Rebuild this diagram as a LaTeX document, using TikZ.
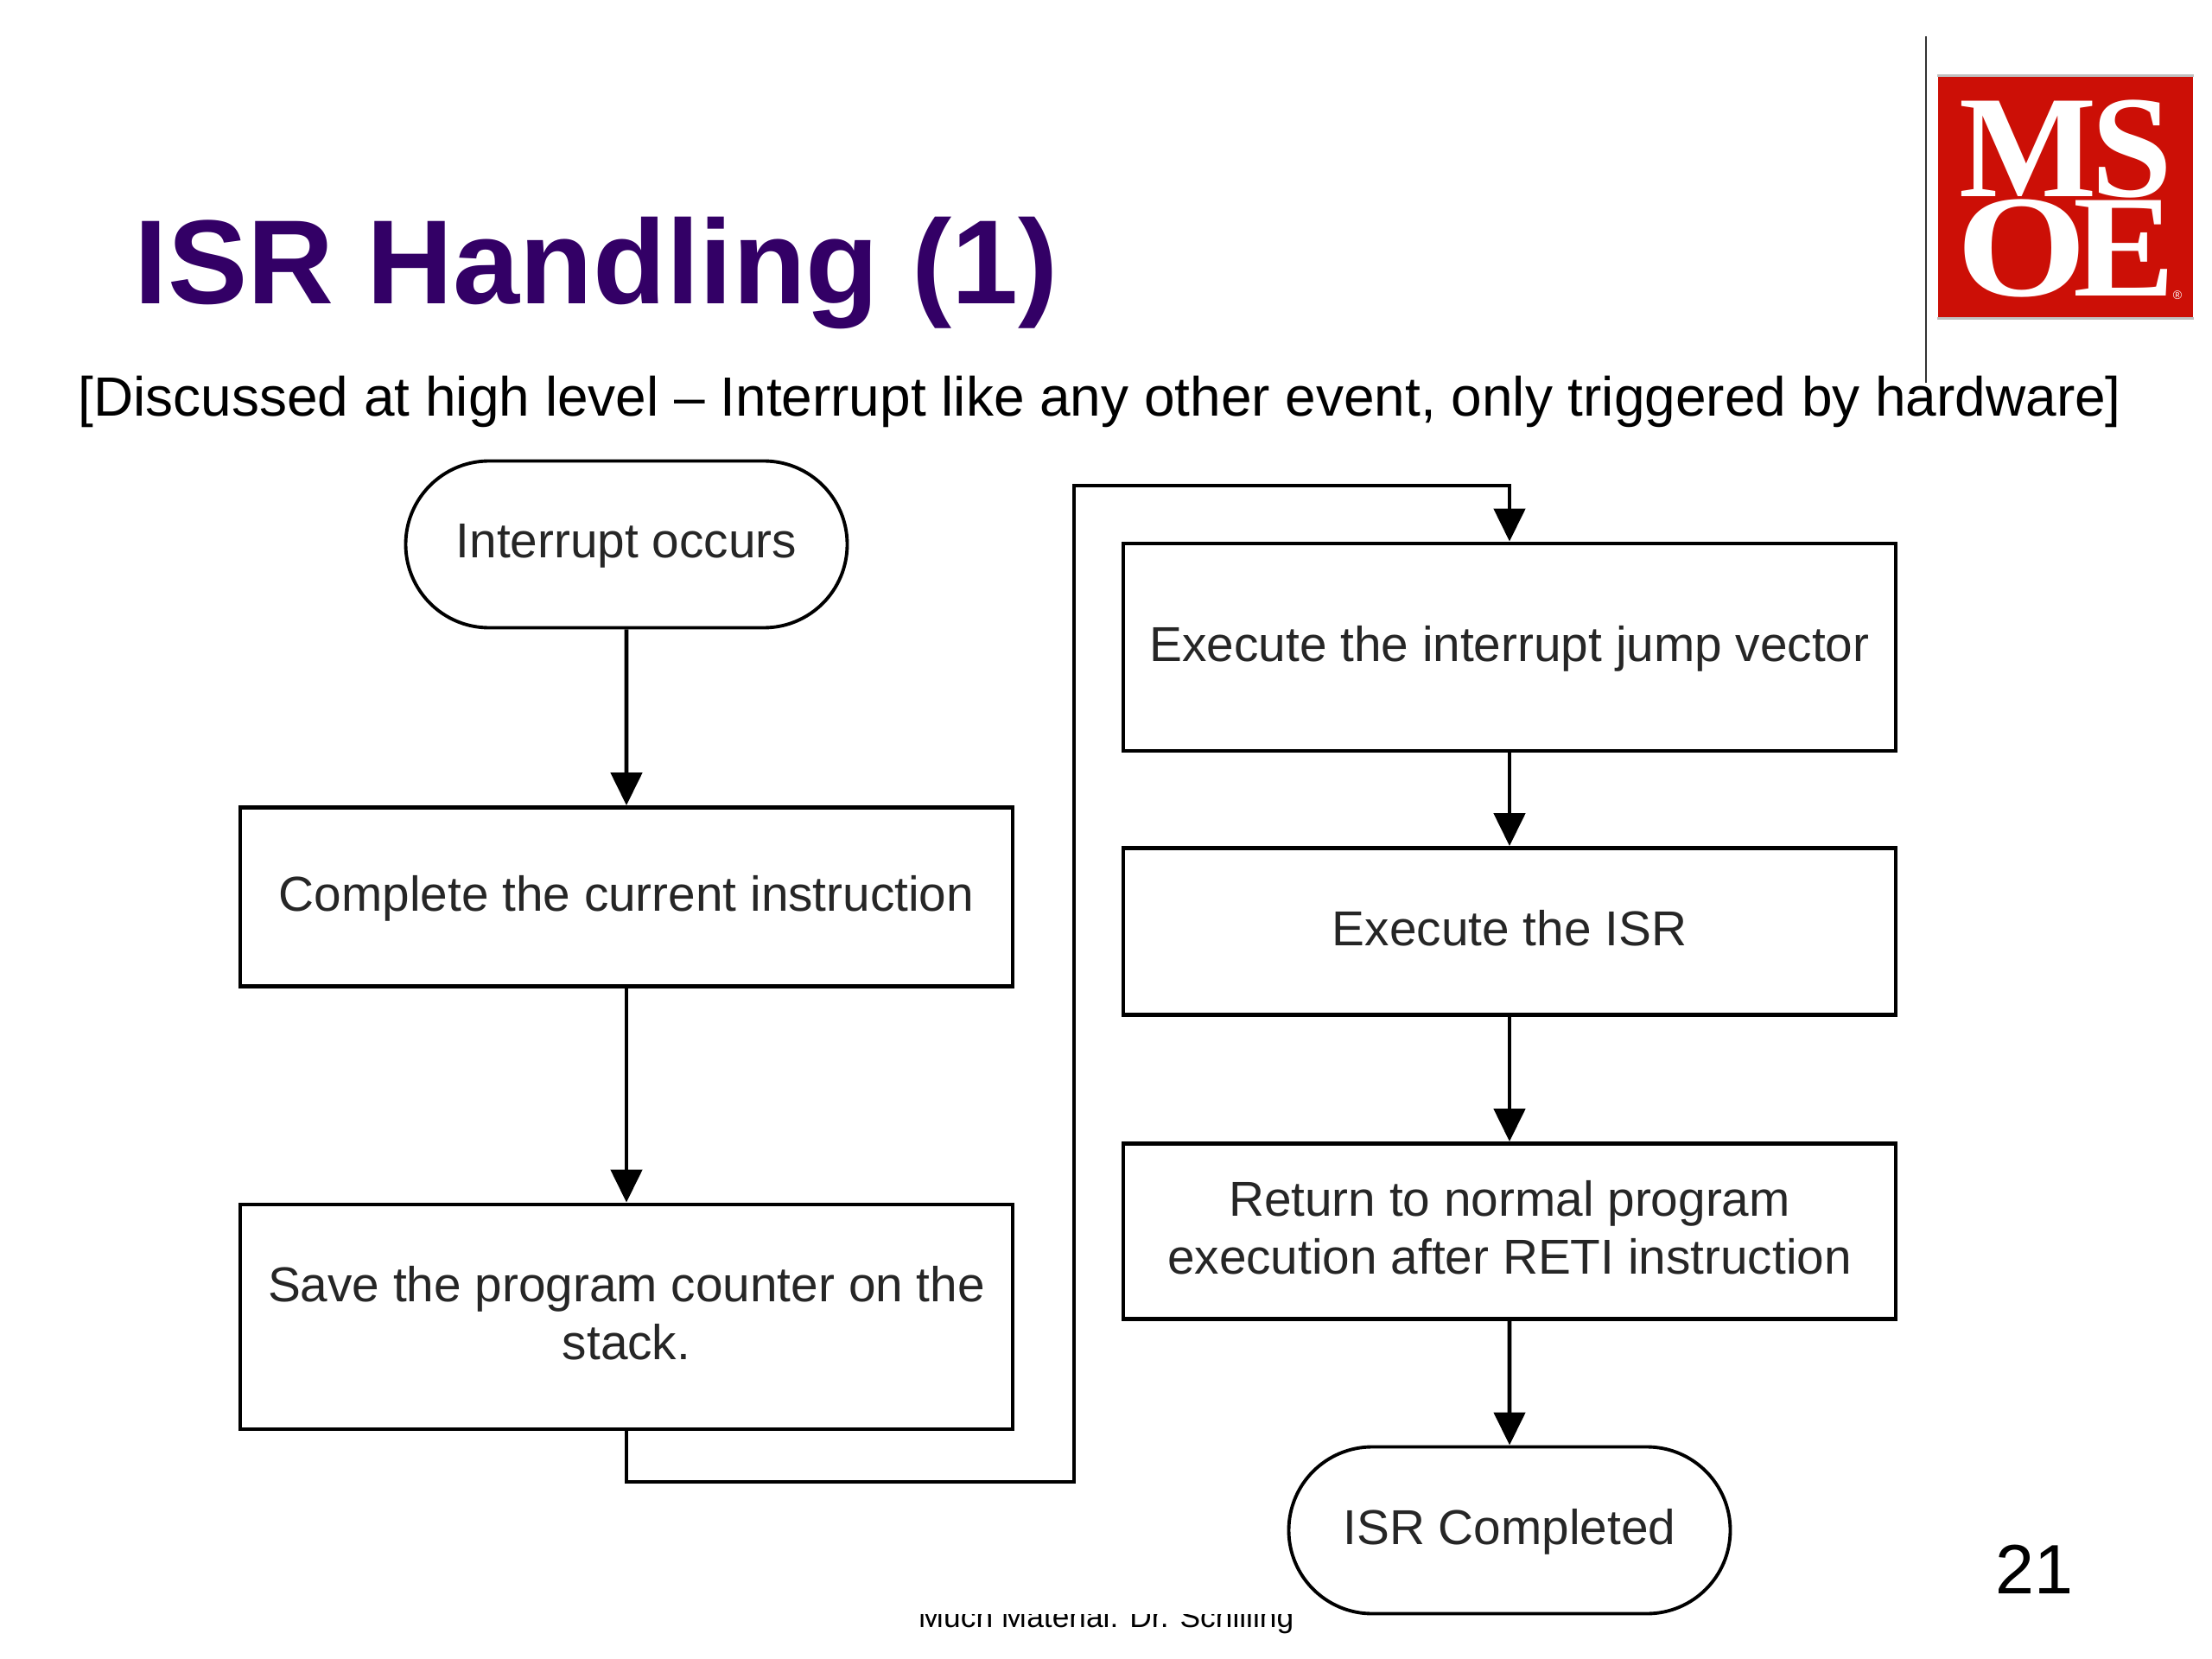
\documentclass[tikz,border=0pt]{standalone}
\usepackage{fontspec}
\setmainfont{Liberation Sans}
\newfontfamily\logofont{Liberation Serif}
\usetikzlibrary{arrows.meta,shapes.misc}
\definecolor{titlepurple}{HTML}{330066}
\definecolor{logored}{HTML}{CC0F06}
\begin{document}
\begin{tikzpicture}[
		boxtext/.style={align=center, inner sep=0pt, text depth=2.5pt, text=black!85, font=\fontsize{16.15}{19}\selectfont},
		process/.style={boxtext, rectangle, draw=black, line width=1.35pt, minimum width=8.94cm},
		terminal/.style={boxtext, rounded rectangle, draw=black, line width=1.1pt, minimum width=5.11cm, minimum height=1.93cm},
		flow/.style={draw=black, line width=1.35pt, -{Triangle[length=0.38cm,width=0.36cm]}},
		logoletter/.style={inner sep=0pt, text=white, font=\logofont\fontsize{48}{48}\bfseries\selectfont}
	]
	\useasboundingbox (0,0) rectangle (25.6,-19.2);
	\node (title) at (1.55,-3.52) [anchor=base west, inner sep=0pt, text=titlepurple, font=\fontsize{39.4}{44}\bfseries\selectfont] {ISR Handling (1)};
	\node (subtitle) at (0.9,-4.82) [anchor=base west, inner sep=0pt, font=\fontsize{18.2}{22}\selectfont] {[Discussed at high level -- Interrupt like any other event, only triggered by hardware]};
	\draw[line width=0.7pt, black!80] (22.29,-0.42) -- (22.29,-4.43);

	% logo
	\node (logo) at (23.905,-2.28) [rectangle, fill=logored, inner sep=0pt, minimum width=2.95cm, minimum height=2.80cm] {};
	\draw[black!25, line width=0.8pt] (logo.north west) -- (logo.north east);
	\draw[black!25, line width=0.8pt] (logo.south west) -- (logo.south east);
	\node (logoM) at (23.47,-1.72) [logoletter] {M};
	\node (logoS) at (24.67,-1.72) [logoletter] {S};
	\node (logoO) at (23.40,-2.87) [logoletter, xscale=1.15] {O};
	\node (logoE) at (24.59,-2.87) [logoletter, xscale=1.05] {E};
	\node (logoR) at (25.2,-3.42) [inner sep=0pt, text=white, font=\fontsize{4}{4}\selectfont] {\textregistered};

	% left column
	\node (occurs) at (7.25,-6.30) [terminal] {Interrupt occurs};
	\node (complete) at (7.25,-10.38) [process, minimum height=2.07cm] {Complete the current instruction};
	\node (save) at (7.25,-15.24) [process, minimum height=2.60cm] {Save the program counter on the\\stack.};

	% right column
	\node (jump) at (17.47,-7.49) [process, minimum height=2.40cm] {Execute the interrupt jump vector};
	\node (isr) at (17.47,-10.78) [process, minimum height=1.93cm] {Execute the ISR};
	\node (return) at (17.47,-14.25) [process, minimum height=2.03cm] {Return to normal program\\execution after RETI instruction};
	\node (done) at (17.47,-17.71) [terminal] {ISR Completed};

	\coordinate (lanelow) at (12.43,-17.15);
	\coordinate (lanehigh) at (12.43,-5.62);
	\draw[flow] (occurs) -- (complete);
	\draw[flow] (complete) -- (save);
	\draw[flow] (save.south) |- (lanelow) -- (lanehigh) -| (jump.north);
	\draw[flow] (jump) -- (isr);
	\draw[flow] (isr) -- (return);
	\draw[flow] (return) -- (done);

	\node (page) at (23.54,-18.16) [inner sep=0pt, font=\fontsize{23}{27}\selectfont] {21};
	\begin{scope}
		\clip (10,-18.68) rectangle (15.2,-19.2);
		\node (credit) at (12.8,-18.83) [anchor=base, inner sep=0pt, font=\fontsize{10.05}{12}\selectfont] {Much Material: Dr. Schilling};
	\end{scope}
\end{tikzpicture}
\end{document}
